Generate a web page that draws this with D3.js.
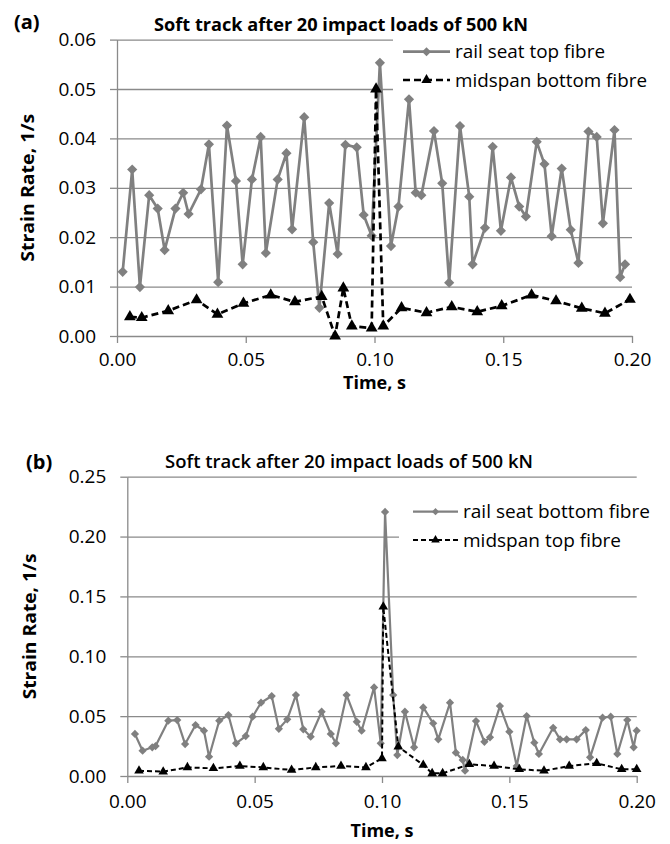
<!DOCTYPE html>
<html>
<head>
<meta charset="utf-8">
<script src="https://cdn.jsdelivr.net/npm/d3@7"></script>
<style>
  body { margin: 0; background: #fff; }
  svg { display: block; }
  text { font-family: "Open Sans", "Noto Sans", sans-serif; fill: #000; }
</style>
</head>
<body>
<svg id="chart" width="670" height="844"></svg>
<script>
// ---- data -------------------------------------------------------------
const timeTicks = [0, 0.05, 0.10, 0.15, 0.20];
const rateTicksA = [0, 0.01, 0.02, 0.03, 0.04, 0.05, 0.06];
const rateTicksB = [0, 0.05, 0.10, 0.15, 0.20, 0.25];

const panelTitle = "Soft track after 20 impact loads of 500 kN";
const seriesNamesA = ["rail seat top fibre", "midspan bottom fibre"];
const seriesNamesB = ["rail seat bottom fibre", "midspan top fibre"];

// (a) rail seat top fibre
const aRailTime = [0.0022,0.0059,0.0089,0.0125,0.0158,0.0185,0.0227,0.0257,0.0278,0.0326,
  0.0357,0.0393,0.0427,0.0462,0.0488,0.0524,0.0558,0.0578,0.0624,0.0658,
  0.0680,0.0727,0.0762,0.0786,0.0824,0.0857,0.0887,0.0931,0.0958,0.0989,
  0.1021,0.1064,0.1093,0.1134,0.1160,0.1182,0.1231,0.1263,0.1290,0.1332,
  0.1368,0.1381,0.1429,0.1459,0.1491,0.1530,0.1562,0.1588,0.1630,0.1660,
  0.1688,0.1727,0.1762,0.1792,0.1831,0.1863,0.1887,0.1932,0.1954,0.1973];
const aRailRate = [0.0130,0.0337,0.0099,0.0285,0.0258,0.0174,0.0258,0.0290,0.0247,0.0297,
  0.0388,0.0109,0.0426,0.0314,0.0145,0.0317,0.0403,0.0168,0.0317,0.0370,
  0.0216,0.0443,0.0190,0.0057,0.0269,0.0166,0.0387,0.0382,0.0245,0.0203,
  0.0553,0.0182,0.0262,0.0479,0.0290,0.0285,0.0415,0.0309,0.0108,0.0425,
  0.0282,0.0145,0.0219,0.0383,0.0213,0.0321,0.0262,0.0242,0.0393,0.0348,
  0.0202,0.0339,0.0215,0.0148,0.0414,0.0403,0.0228,0.0417,0.0119,0.0145];

// (a) midspan bottom fibre
const aMidTime = [0.0050,0.0096,0.0199,0.0309,0.0390,0.0491,0.0597,0.0691,0.0795,0.0847,
  0.0879,0.0912,0.0989,0.1006,0.1034,0.1105,0.1202,0.1300,0.1399,0.1494,
  0.1610,0.1705,0.1805,0.1895,0.1992];
const aMidRate = [0.0039,0.0037,0.0051,0.0073,0.0044,0.0066,0.0083,0.0069,0.0080,0.0000,
  0.0097,0.0020,0.0016,0.0500,0.0020,0.0057,0.0047,0.0059,0.0049,0.0061,
  0.0083,0.0071,0.0056,0.0046,0.0074];

// (b) rail seat bottom fibre
const bRailTime = [0.0030,0.0060,0.0098,0.0111,0.0161,0.0196,0.0227,0.0268,0.0301,0.0321,
  0.0361,0.0397,0.0427,0.0465,0.0492,0.0525,0.0567,0.0595,0.0628,0.0662,
  0.0691,0.0720,0.0763,0.0799,0.0819,0.0861,0.0901,0.0920,0.0969,0.0995,
  0.1012,0.1044,0.1060,0.1090,0.1126,0.1162,0.1201,0.1221,0.1267,0.1290,
  0.1317,0.1326,0.1369,0.1402,0.1424,0.1463,0.1500,0.1529,0.1568,0.1598,
  0.1616,0.1672,0.1699,0.1725,0.1764,0.1800,0.1817,0.1866,0.1898,0.1924,
  0.1963,0.1988,0.2000];
const bRailRate = [0.0351,0.0211,0.0240,0.0250,0.0462,0.0467,0.0267,0.0426,0.0378,0.0161,
  0.0462,0.0509,0.0273,0.0334,0.0495,0.0612,0.0668,0.0394,0.0473,0.0676,
  0.0390,0.0328,0.0537,0.0351,0.0273,0.0676,0.0453,0.0378,0.0740,0.0273,
  0.2206,0.0676,0.0175,0.0537,0.0240,0.0573,0.0440,0.0306,0.0612,0.0195,
  0.0134,0.0044,0.0459,0.0286,0.0323,0.0584,0.0370,0.0083,0.0501,0.0278,
  0.0184,0.0403,0.0306,0.0306,0.0306,0.0384,0.0156,0.0487,0.0495,0.0184,
  0.0467,0.0240,0.0378];

// (b) midspan top fibre
const bMidTime = [0.0046,0.0141,0.0236,0.0338,0.0442,0.0534,0.0645,0.0740,0.0839,0.0937,
  0.1000,0.1005,0.1064,0.1162,0.1197,0.1238,0.1343,0.1440,0.1539,0.1636,
  0.1735,0.1843,0.1941,0.2000];
const bMidRate = [0.0044,0.0036,0.0072,0.0064,0.0083,0.0072,0.0050,0.0072,0.0083,0.0072,
  0.0147,0.1413,0.0245,0.0092,0.0022,0.0022,0.0098,0.0083,0.0056,0.0044,
  0.0083,0.0106,0.0056,0.0056];

// ---- drawing ----------------------------------------------------------
const svg = d3.select("#chart");
const GRID = "#8a8a8a";
const GRAY = "#808080";

// square diamond (rotated square) marker
const diamond = {
  draw(ctx, size) {
    const r = Math.sqrt(size / 2);
    ctx.moveTo(0, -r); ctx.lineTo(r, 0); ctx.lineTo(0, r); ctx.lineTo(-r, 0); ctx.closePath();
  }
};

function zip(t, v) { return t.map((d, i) => ({ t: d, v: v[i] })); }

function drawPanel(cfg) {
  const g = svg.append("g");
  const x = d3.scaleLinear().domain([0, 0.2]).range([cfg.left, cfg.right]);
  const y = d3.scaleLinear().domain([0, cfg.yMax]).range([cfg.bottom, cfg.top]);
  const fmt = d3.format(".2f");

  // horizontal gridlines
  const grid = g.append("g").attr("transform", `translate(${cfg.left},0)`)
    .call(d3.axisLeft(y).tickValues(cfg.yTicks.filter(d => d > 0))
      .tickSize(-(cfg.right - cfg.left)).tickFormat(""));
  grid.select(".domain").remove();
  grid.selectAll("line").attr("stroke", GRID).attr("stroke-width", 1.3);

  // legend background covers the gridlines behind it
  g.append("rect").attr("x", cfg.legend.box[0]).attr("y", cfg.legend.box[1])
    .attr("width", cfg.legend.box[2]).attr("height", cfg.legend.box[3]).attr("fill", "#fff");

  // y axis
  const ya = g.append("g").attr("transform", `translate(${cfg.left},0)`)
    .call(d3.axisLeft(y).tickValues(cfg.yTicks).tickSize(7).tickSizeOuter(0)
      .tickPadding(cfg.yPad).tickFormat(fmt));
  ya.select(".domain").attr("stroke", GRID).attr("stroke-width", 1.3);
  ya.selectAll("line").attr("stroke", GRID).attr("stroke-width", 1.3);
  ya.selectAll("text").attr("font-size", cfg.tickFont).attr("font-family", null).attr("fill", "#000");

  // x axis
  const xa = g.append("g").attr("transform", `translate(0,${cfg.bottom})`)
    .call(d3.axisBottom(x).tickValues(timeTicks).tickSize(7).tickSizeOuter(0)
      .tickPadding(cfg.xPad).tickFormat(fmt));
  xa.select(".domain").attr("stroke", GRID).attr("stroke-width", 1.3);
  xa.selectAll("line").attr("stroke", GRID).attr("stroke-width", 1.3);
  xa.selectAll("text").attr("font-size", cfg.tickFont).attr("font-family", null).attr("fill", "#000");

  const line = d3.line().x(d => x(d.t)).y(d => y(d.v));

  cfg.series.forEach(s => {
    const pts = zip(s.t, s.v);
    g.append("path").datum(pts).attr("d", line).attr("fill", "none")
      .attr("stroke", s.color).attr("stroke-width", s.width)
      .attr("stroke-dasharray", s.dash || null).attr("stroke-linejoin", "round");
    g.append("g").selectAll("path").data(pts).join("path")
      .attr("transform", d => `translate(${x(d.t)},${y(d.v)})`)
      .attr("d", d3.symbol().type(s.symbol).size(s.size))
      .attr("fill", s.color);
  });

  // legend entries
  cfg.series.forEach((s, i) => {
    const ly = cfg.legend.y[i];
    const [lx0, lx1] = cfg.legend.line;
    g.append("line").attr("x1", lx0).attr("x2", lx1).attr("y1", ly).attr("y2", ly)
      .attr("stroke", s.color).attr("stroke-width", s.width)
      .attr("stroke-dasharray", s.dash || null);
    g.append("path").attr("transform", `translate(${(lx0 + lx1) / 2},${ly})`)
      .attr("d", d3.symbol().type(s.symbol).size(s.legendSize)).attr("fill", s.color);
    g.append("text").attr("x", cfg.legend.textX).attr("y", ly).attr("dy", "0.35em")
      .attr("font-size", cfg.legend.font).attr("textLength", cfg.legend.lengths[i])
      .attr("lengthAdjust", "spacingAndGlyphs").text(cfg.names[i]);
  });

  // titles and labels
  g.append("text").attr("x", cfg.titleX).attr("y", cfg.titleY).attr("text-anchor", "middle")
    .attr("font-size", cfg.titleFont).attr("font-weight", cfg.titleWeight)
    .attr("textLength", cfg.titleLen).attr("lengthAdjust", "spacingAndGlyphs").text(panelTitle);
  g.append("text").attr("x", cfg.tagX).attr("y", cfg.tagY)
    .attr("font-size", 20).attr("font-weight", "bold").text(cfg.tag);
  g.append("text").attr("transform", `translate(${cfg.yLabelX},${(cfg.top + cfg.bottom) / 2}) rotate(-90)`)
    .attr("text-anchor", "middle").attr("dy", "0.35em")
    .attr("font-size", 18.5).attr("font-weight", "bold")
    .attr("textLength", cfg.yLabelLen).attr("lengthAdjust", "spacingAndGlyphs")
    .text("Strain Rate, 1/s");
  g.append("text").attr("x", (cfg.left + cfg.right) / 2).attr("y", cfg.xLabelY)
    .attr("text-anchor", "middle").attr("dy", "0.35em")
    .attr("font-size", 18).attr("font-weight", "bold")
    .attr("textLength", 63).attr("lengthAdjust", "spacingAndGlyphs").text("Time, s");
}

drawPanel({
  left: 117, right: 632, bottom: 336, top: 39.6, yMax: 0.06, yTicks: rateTicksA,
  yPad: 14, xPad: 10, tickFont: 19,
  series: [
    { t: aRailTime, v: aRailRate, color: GRAY, width: 2.7, symbol: diamond, size: 52, legendSize: 40 },
    { t: aMidTime, v: aMidRate, color: "#000", width: 2.7, dash: "7,4", symbol: d3.symbolTriangle, size: 60, legendSize: 45 }
  ],
  names: seriesNamesA,
  legend: { box: [393, 30, 270, 63], y: [51.7, 80], line: [403, 450], textX: 455,
            font: 19, lengths: [150, 192] },
  titleX: 341, titleY: 31, titleFont: 18, titleWeight: "bold", titleLen: 374,
  tag: "(a)", tagX: 14, tagY: 29, yLabelX: 28, yLabelLen: 148, xLabelY: 383
});

drawPanel({
  left: 127.3, right: 636.7, bottom: 776, top: 476.7, yMax: 0.25, yTicks: rateTicksB,
  yPad: 14, xPad: 12, tickFont: 19,
  series: [
    { t: bRailTime, v: bRailRate, color: GRAY, width: 2.2, symbol: diamond, size: 34, legendSize: 26 },
    { t: bMidTime, v: bMidRate, color: "#000", width: 2, dash: "5,3", symbol: d3.symbolTriangle, size: 40, legendSize: 32 }
  ],
  names: seriesNamesB,
  legend: { box: [399, 497, 265, 56], y: [511.7, 540], line: [413, 458], textX: 463,
            font: 19, lengths: [187, 158] },
  titleX: 349, titleY: 468, titleFont: 17.5, titleWeight: "600", titleLen: 368,
  tag: "(b)", tagX: 26, tagY: 469, yLabelX: 30, yLabelLen: 146, xLabelY: 831
});
</script>
</body>
</html>
